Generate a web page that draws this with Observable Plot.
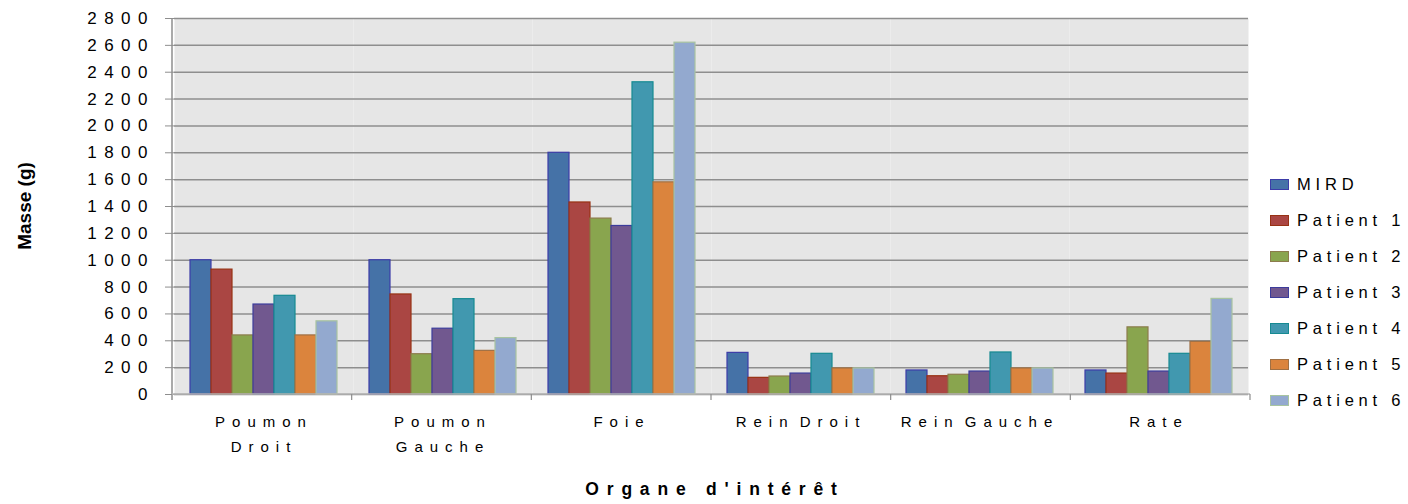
<!DOCTYPE html>
<html>
<head>
<meta charset="utf-8">
<script src="https://cdn.jsdelivr.net/npm/d3@7"></script>
<script src="https://cdn.jsdelivr.net/npm/@observablehq/plot@0.6"></script>
<style>
  body { margin: 0; background: #fff; }
  #wrap { position: relative; width: 1408px; height: 504px; font-family: "Liberation Sans", Arial, sans-serif; color: #000; }
  #wrap svg { position: absolute; left: 0; top: 0; }
  [aria-label="y-axis tick label"] text { letter-spacing: 7.5px; }
  [aria-label="fx-axis tick label"] text { letter-spacing: 7px; word-spacing: -6px; }
  .legend { position: absolute; left: 1270px; top: 166px; }
  .legend .item { height: 36px; display: flex; align-items: center; }
  .legend .sw { width: 17px; height: 9px; border: 1px solid; margin-right: 8px; }
  .legend .lab { font-size: 16.5px; letter-spacing: 4.8px; }
</style>
</head>
<body>
<div id="wrap"></div>
<script>
const organs = ["Poumon Droit", "Poumon Gauche", "Foie", "Rein Droit", "Rein Gauche", "Rate"];
const organLabels = ["Poumon\nDroit", "Poumon\nGauche", "Foie", "Rein Droit", "Rein Gauche", "Rate"];
const series = ["MIRD", "Patient 1", "Patient 2", "Patient 3", "Patient 4", "Patient 5", "Patient 6"];
const mird     = [1000, 1000, 1800, 310, 179, 179];
const patient1 = [930, 745, 1430, 124, 136, 156];
const patient2 = [440, 300, 1310, 134, 147, 500];
const patient3 = [670, 490, 1255, 156, 171, 171];
const patient4 = [735, 710, 2325, 303, 313, 303];
const patient5 = [440, 325, 1580, 194, 194, 392];
const patient6 = [545, 420, 2620, 194, 194, 712];
const yTicks = [0, 200, 400, 600, 800, 1000, 1200, 1400, 1600, 1800, 2000, 2200, 2400, 2600, 2800];
const fills   = ["#4572A7", "#AA4643", "#89A54E", "#71588F", "#4198AF", "#DB843D", "#93A9CF"];
const strokes = ["#3c3ca8", "#983214", "#8c7c4c", "#3c3c9c", "#168a92", "#a07044", "#a8c4a0"];

const seriesValues = [mird, patient1, patient2, patient3, patient4, patient5, patient6];
const rows = [];
organs.forEach((o, i) => seriesValues.forEach((vals, j) => rows.push({organ: o, series: series[j], value: vals[i]})));

const plot = Plot.plot({
  width: 1408,
  height: 504,
  marginLeft: 172,
  marginRight: 158,
  marginTop: 18,
  marginBottom: 110,
  style: {fontFamily: "'Liberation Sans', Arial, sans-serif", fontSize: "15px", background: "transparent", color: "#000", overflow: "visible"},
  facet: {data: rows, x: "organ"},
  fx: {domain: organs, padding: 0, label: null},
  x: {domain: series, axis: null, paddingInner: 0, paddingOuter: 0.72},
  y: {domain: [0, 2800], label: null},
  marks: [
    Plot.frame({fill: "#e6e6e6", stroke: null}),
    Plot.ruleY(yTicks, {stroke: "#8e8e8e", strokeWidth: 1.5}),
    ...series.map((s, j) => Plot.barY(rows, {filter: d => d.series === s, x: "series", y: "value", fill: fills[j], stroke: strokes[j], strokeWidth: 1.2})),
    Plot.axisY(yTicks, {tickSize: 9, tickPadding: 10.5, label: null, fontSize: 17, stroke: "#8e8e8e", fill: "#000", tickFormat: d => String(d)}),
    Plot.axisFx({anchor: "bottom", tickSize: 0, tickPadding: 15, lineHeight: 1.65, label: null, fontSize: 15, fill: "#000", tickFormat: d => organLabels[organs.indexOf(d)]})
  ]
});

document.getElementById("wrap").appendChild(plot);

// Extra axis lines & category boundary ticks, positioned with the plot's own scales
const fxs = plot.scale("fx");
const ys = plot.scale("y");
const fx = d3.scaleBand().domain(fxs.domain).range(fxs.range).padding(0);
const y = d3.scaleLinear().domain(ys.domain).range(ys.range);
const svg = d3.select(plot);
const g = svg.append("g");
const y0 = y(0), yTop = y(2800);
g.append("line").attr("x1", fx.range()[0]).attr("x2", fx.range()[0]).attr("y1", yTop).attr("y2", y0 + 6).attr("stroke", "#8e8e8e").attr("stroke-width", 1.5);
g.append("line").attr("x1", fx.range()[0]).attr("x2", fx.range()[1]).attr("y1", y0).attr("y2", y0).attr("stroke", "#b4b4b4").attr("stroke-width", 1.5);
organs.forEach(o => {
  const xr = fx(o) + fx.bandwidth();
  g.append("line").attr("x1", xr).attr("x2", xr).attr("y1", y0).attr("y2", y0 + 6).attr("stroke", "#8e8e8e").attr("stroke-width", 1.2);
});
svg.append("text").text("Organe d'intérêt")
  .attr("x", (fx.range()[0] + fx.range()[1]) / 2 + 4).attr("y", 495)
  .attr("text-anchor", "middle").attr("font-weight", "bold").attr("font-size", 17.5).attr("letter-spacing", "7.8px").attr("fill", "#000");
svg.append("text").text("Masse (g)")
  .attr("transform", `translate(31,${(yTop + y0) / 2}) rotate(-90)`)
  .attr("text-anchor", "middle").attr("font-weight", "bold").attr("font-size", 19).attr("letter-spacing", "0px").attr("fill", "#000");

// Legend
const legend = d3.select("#wrap").append("div").attr("class", "legend");
series.forEach((s, j) => {
  const it = legend.append("div").attr("class", "item");
  it.append("div").attr("class", "sw").style("background", fills[j]).style("border-color", strokes[j]);
  it.append("div").attr("class", "lab").text(s);
});
</script>
</body>
</html>
